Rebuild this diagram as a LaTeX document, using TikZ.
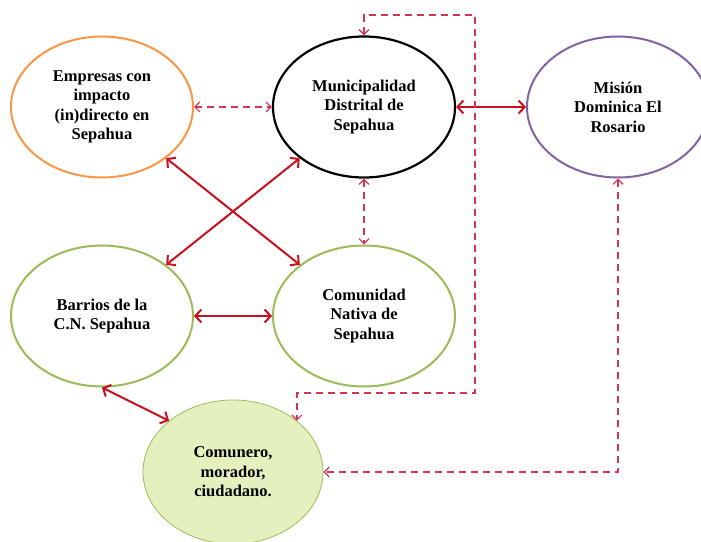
\documentclass[tikz,border=0pt]{standalone}
\usepackage{fontspec}
\setmainfont{Liberation Serif}
\usetikzlibrary{shapes.geometric,arrows.meta}
\definecolor{linkred}{RGB}{200,16,30}
\definecolor{dashred}{RGB}{212,52,84}
\definecolor{orangeB}{RGB}{247,150,70}
\definecolor{purpleB}{RGB}{128,100,162}
\definecolor{greenB}{RGB}{155,187,89}
\definecolor{greenF}{RGB}{228,240,190}
\begin{document}
\begin{tikzpicture}[x=1pt,y=1pt,
	actor/.style = {ellipse, line width=2pt, minimum width=182pt, minimum height=141pt,
		inner sep=0pt, align=center, font=\fontsize{16.5}{19.5}\selectfont\bfseries},
	link/.style = {draw=linkred, line width=2pt, {Straight Barb[length=6pt,width=13pt]}-{Straight Barb[length=6pt,width=13pt]}},
	dlink/.style = {draw=dashred, line width=1.2pt, dash pattern=on 7pt off 5pt, {Straight Barb[length=5pt,width=10pt]}-{Straight Barb[length=5pt,width=10pt]}}]
%	\draw[help lines] (0,0) grid (701,541);
	\useasboundingbox (0,0) rectangle (701,541);
	\node [actor, draw=orangeB] (emp) at (102,434) {Empresas con\\impacto\\(in)directo en\\Sepahua};
	\node [actor, draw=black, line width=2.2pt] (mun) at (364,434) {Municipalidad\\Distrital de\\Sepahua};
	\node [actor, draw=purpleB] (mis) at (618,434) {Misión\\Dominica El\\Rosario};
	\node [actor, draw=greenB] (bar) at (102,225) {Barrios de la\\C.N. Sepahua};
	\node [actor, draw=greenB] (com) at (364,225) {Comunidad\\Nativa de\\Sepahua};
	\node [actor, draw=greenB, line width=0.8pt, fill=greenF, minimum width=180pt, minimum height=144pt] (cmn) at (233,69) {Comunero,\\morador,\\ciudadano.};
	\coordinate (t1) at (475,526);
	\coordinate (b1) at (475,148);
	\draw [dlink] (emp) -- (mun);
	\draw [link] (mun) -- (mis);
	\draw [link] (emp) -- (com);
	\draw [link] (mun) -- (bar);
	\draw [dlink] (mun) -- (com);
	\draw [link] (bar) -- (com);
	\draw [link] (bar.south) -- (cmn.north west);
	\draw [dlink] (mun.north) |- (t1) -- (b1) -| (cmn.north east);
	\draw [dlink] (mis.south) |- (cmn.east);
\end{tikzpicture}
\end{document}
